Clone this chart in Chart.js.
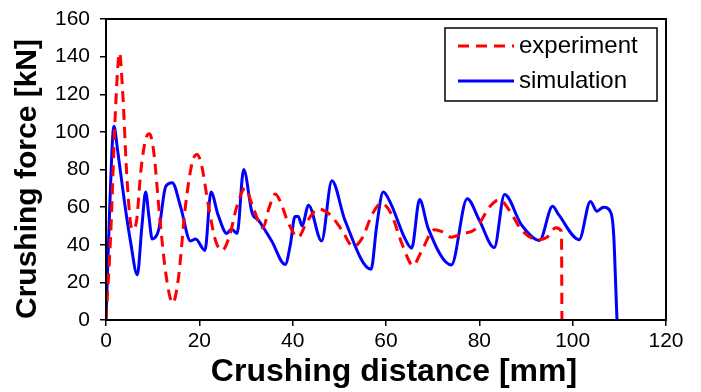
<!DOCTYPE html>
<html><head><meta charset="utf-8">
<script src="https://cdn.jsdelivr.net/npm/chart.js@4.4.1/dist/chart.umd.min.js"></script>
<style>html,body{margin:0;padding:0;background:#fff}#wrap{width:701px;height:392px}</style>
</head><body><div id="wrap"><canvas id="c" width="701" height="392"></canvas></div>
<script>
// ---- data ----
const seriesNames = ['experiment', 'simulation'];
const expX = [0,1,2,2.9,3.6,4.5,5.6,6.5,7.5,8.5,9.3,10.2,11.5,12.8,14.3,15.5,17,18.5,19.5,20.5,22,23.5,24.9,26.5,28,29.8,31.5,33.6,35,36.3,37.5,39,41.2,43,45.5,48,50.5,53,55,57,59,61,63.5,65.8,67.5,70.4,72,74,76.5,79,82.5,84.3,86.5,89,92.5,94.5,96.4,97.6,97.7];
const expY = [0,45,110,142,120,75,48,52,80,96,99,90,55,25,9,22,60,84,88,82,60,42,37,45,60,70,60,49,60,67,62,52,44,52,59,56,48,39,44,56,62,57,40,29,36,48,47,44,46,48,61,64,58,48,42.7,44,49,47,0];
const simX = [0,0.8,1.7,2.5,4,5.3,6.7,7.7,8.5,9.2,9.9,11.3,12.8,14.2,16,18.1,19.2,21.2,22.5,24,25.9,26.9,28.1,29.5,31.3,32.7,35.5,38.4,39.5,40.5,41.2,42,43.4,46.2,48.4,51.2,56.8,58,59.4,61,64,65.5,67.2,69,74,77.4,80,83.2,85.4,89,92.9,95.7,97,101.4,103.8,105.2,106.6,108.2,108.8,109.2,109.5];
const simY = [0,60,103,90,62,41,24,50,68,55,43,48,71,73,60,42,43,37,68,56,46,48.4,46,80,57,53,42,29.5,40,55,55,50,61,42,74,53,27,50,68,62,43.6,38.2,64,49,29.3,64.4,53,38.5,66.7,50.7,42.3,60.4,56,42.7,63,57.8,60,57,45,20,0];
const xTicks = [0,20,40,60,80,100,120];
const yTicks = [0,20,40,60,80,100,120,140,160];
const xTitle = 'Crushing distance [mm]';
const yTitle = 'Crushing force [kN]';

const toPts = (xs, ys) => xs.map((x, i) => ({x, y: ys[i]}));
const FAMILY = '"Liberation Sans", Arial, sans-serif';

const framePlugin = {
  id: 'frame',
  afterDraw(chart) {
    const {ctx, chartArea: a} = chart;
    ctx.save();
    ctx.strokeStyle = '#000';
    ctx.lineWidth = 2;
    ctx.strokeRect(a.left, a.top, a.right - a.left, a.bottom - a.top);
    // axis titles
    ctx.fillStyle = '#000';
    ctx.textAlign = 'center';
    ctx.textBaseline = 'middle';
    ctx.font = 'bold 32px ' + FAMILY;
    ctx.fillText(xTitle, 394, 372);
    ctx.translate(28, 179);
    ctx.rotate(-Math.PI / 2);
    ctx.font = 'bold 30px ' + FAMILY;
    ctx.fillText(yTitle, 0, 0);
    ctx.restore();
  }
};

const legendPlugin = {
  id: 'legendBox',
  afterDraw(chart) {
    const ctx = chart.ctx;
    const bx = 445, by = 28, bw = 212, bh = 73;
    ctx.save();
    ctx.fillStyle = '#fff';
    ctx.fillRect(bx, by, bw, bh);
    ctx.strokeStyle = '#000';
    ctx.lineWidth = 1.5;
    ctx.strokeRect(bx, by, bw, bh);
    chart.data.datasets.forEach((ds, i) => {
      const y = 46 + i * 35;
      ctx.beginPath();
      ctx.setLineDash(ds.borderDash || []);
      ctx.strokeStyle = ds.borderColor;
      ctx.lineWidth = 3;
      ctx.moveTo(458, y);
      ctx.lineTo(514, y);
      ctx.stroke();
      ctx.setLineDash([]);
      ctx.fillStyle = '#000';
      ctx.font = '24px ' + FAMILY;
      ctx.textBaseline = 'middle';
      ctx.textAlign = 'left';
      ctx.fillText(ds.label, 519, y);
    });
    ctx.restore();
  }
};

const zeroPad = (s) => { s.paddingLeft = 0; s.paddingRight = 0; s.paddingTop = 0; s.paddingBottom = 0; };

new Chart(document.getElementById('c'), {
  type: 'line',
  data: {
    datasets: [
      { label: seriesNames[0], data: toPts(expX, expY), borderColor: '#ff0000', borderWidth: 3,
        borderDash: [11, 7], pointRadius: 0, fill: false, cubicInterpolationMode: 'monotone' },
      { label: seriesNames[1], data: toPts(simX, simY), borderColor: '#0000ff', borderWidth: 3,
        pointRadius: 0, fill: false, cubicInterpolationMode: 'monotone' }
    ]
  },
  options: {
    responsive: false,
    animation: false,
    devicePixelRatio: 1,
    layout: { padding: { left: 0, right: 35, top: 19, bottom: 0 } },
    plugins: { legend: { display: false }, tooltip: { enabled: false } },
    scales: {
      x: {
        type: 'linear', min: 0, max: 120,
        afterBuildTicks: (s) => { s.ticks = xTicks.map(v => ({value: v})); },
        afterFit: (s) => { s.height = 72; zeroPad(s); },
        grid: { display: true, drawOnChartArea: false, drawTicks: true, tickLength: 6, color: '#000', lineWidth: 1.5 },
        border: { display: true, color: '#000', width: 2 },
        ticks: { color: '#000', font: { family: FAMILY, size: 21 }, padding: 3, maxRotation: 0 },
        title: { display: false }
      },
      y: {
        type: 'linear', min: 0, max: 160,
        afterBuildTicks: (s) => { s.ticks = yTicks.map(v => ({value: v})); },
        afterFit: (s) => { s.width = 106; zeroPad(s); },
        grid: { display: true, drawOnChartArea: false, drawTicks: true, tickLength: 6, color: '#000', lineWidth: 1.5 },
        border: { display: true, color: '#000', width: 2 },
        ticks: { color: '#000', font: { family: FAMILY, size: 21 }, padding: 10 },
        title: { display: false }
      }
    }
  },
  plugins: [framePlugin, legendPlugin]
});
</script>
</body></html>
